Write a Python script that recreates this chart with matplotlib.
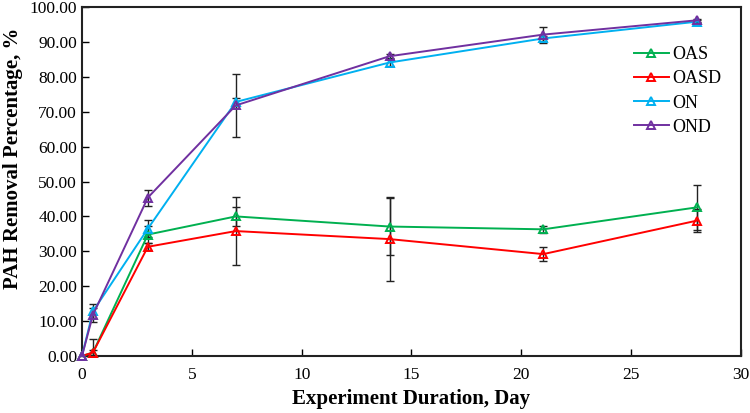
import numpy as np
import matplotlib
matplotlib.use("Agg")
import matplotlib.pyplot as plt

plt.rcParams['font.family'] = ['Liberation Serif', 'DejaVu Serif']

# sampling days
days = [0, 0.5, 3, 7, 14, 21, 28]

# removal percentage per treatment
oas = [0, 1.0, 34.8, 40.0, 37.1, 36.3, 42.6]
oasd = [0, 1.0, 31.3, 35.8, 33.5, 29.2, 38.8]
on = [0, 12.8, 36.5, 72.8, 84.1, 91.0, 95.8]
ond = [0, 11.8, 45.4, 71.8, 85.9, 92.1, 96.2]

# standard deviations
oas_err = [0, 0.8, 2.5, 2.8, 8.2, 1.0, 6.5]
oasd_err = [0, 4.0, 1.0, 9.7, 12.0, 1.9, 3.4]
on_err = [0, 2.0, 2.4, 1.2, 1.0, 0.6, 0.4]
ond_err = [0, 2.0, 2.3, 9.0, 0.6, 2.3, 0.5]

series = [
    ("OAS", oas, oas_err, "#00B050"),
    ("OASD", oasd, oasd_err, "#FF0000"),
    ("ON", on, on_err, "#00B0F0"),
    ("OND", ond, ond_err, "#7030A0"),
]

fig = plt.figure(figsize=(7.5, 4.13), dpi=100)
ax = fig.add_axes([0.1093, 0.138, 0.8787, 0.845])

for name, vals, errs, color in series:
    ax.errorbar(days, vals, yerr=errs, fmt='none', ecolor='#222222',
                elinewidth=1.0, capsize=3, capthick=1.0, zorder=2)
    ax.plot(days, vals, color=color, lw=1.4, marker='^', markersize=6,
            markerfacecolor='none', markeredgecolor=color, markeredgewidth=1.4,
            label=name, zorder=3, clip_on=False)

ax.set_xlim(0, 30)
ax.set_ylim(0, 100)
ax.set_xticks(np.arange(0, 31, 5))
ax.set_yticks(np.arange(0, 101, 10))
ax.set_yticklabels([f"{v:.2f}" for v in np.arange(0, 101, 10)])
ax.tick_params(direction='in', length=5, width=1.0, labelsize=12.5)
ax.tick_params(axis='x', pad=8)
for sp in ax.spines.values():
    sp.set_linewidth(1.5)
    sp.set_color('#222222')

ax.set_xlabel("Experiment Duration, Day", fontsize=15, fontweight='bold', labelpad=4)
ax.set_ylabel("PAH Removal Percentage, %", fontsize=15, fontweight='bold')
ax.yaxis.set_label_coords(-0.09, 0.567)

ax.legend(loc='upper left', bbox_to_anchor=(0.838, 0.888), frameon=False,
          fontsize=13, handlelength=1.9, handletextpad=0.2, labelspacing=0.4,
          borderaxespad=0, borderpad=0)

fig.savefig("out.png", dpi=100)
